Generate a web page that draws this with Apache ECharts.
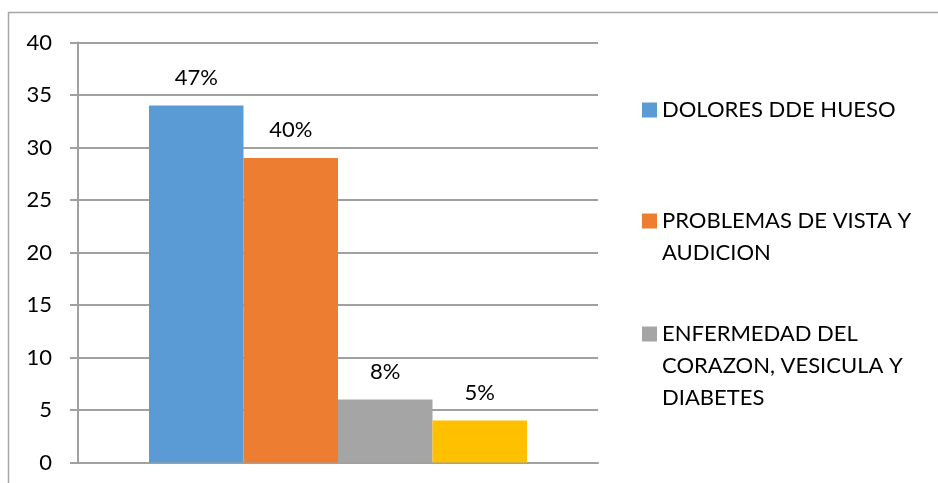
<!DOCTYPE html>
<html>
<head>
<meta charset="utf-8">
<script src="https://cdn.jsdelivr.net/npm/echarts@6/dist/echarts.min.js"></script>
<style>
html,body{margin:0;padding:0;background:#fff;}
#c{width:938px;height:483px;}
</style>
</head>
<body>
<div id="c"></div>
<script>
var categories = [''];
var seriesNames = ['DOLORES DDE HUESO', 'PROBLEMAS DE VISTA Y\nAUDICION', 'ENFERMEDAD DEL\nCORAZON, VESICULA Y\nDIABETES', 'OTROS'];
var seriesValues = [34, 29, 6, 4];
var seriesLabels = ['47%', '40%', '8%', '5%'];
var seriesColors = ['#5B9BD5', '#ED7D31', '#A5A5A5', '#FFC000'];
var yTicks = [0, 5, 10, 15, 20, 25, 30, 35, 40];

var FONT = 'Lato';
var FS = 22;
var chart = echarts.init(document.getElementById('c'));

var series = seriesValues.map(function (v, i) {
  return {
    name: seriesNames[i],
    type: 'bar',
    data: [v],
    barGap: '0%',
    barCategoryGap: '27.3%',
    itemStyle: { color: seriesColors[i] },
    label: {
      show: true,
      position: 'top',
      distance: 17,
      formatter: seriesLabels[i],
      color: '#000',
      fontFamily: FONT,
      fontSize: FS
    }
  };
});

function legendFor(i, top) {
  var lines = seriesNames[i].split('\n').length;
  return {
    data: [seriesNames[i]],
    left: 637,
    top: top,
    orient: 'vertical',
    itemWidth: 15,
    itemHeight: 15,
    itemGap: 0,
    icon: 'rect',
    selectedMode: false,
    formatter: function (name) {
      var pad = '';
      for (var k = 1; k < lines; k++) pad += ' \n';
      return pad + name;
    },
    textStyle: {
      fontFamily: FONT,
      fontSize: FS,
      lineHeight: 32,
      color: '#000'
    }
  };
}

chart.setOption({
  animation: false,
  backgroundColor: '#fff',
  graphic: [{
    type: 'rect',
    shape: { x: 8.5, y: 12.5, width: 1000, height: 1000 },
    style: { fill: 'none', stroke: '#A6A6A6', lineWidth: 1.5 },
    silent: true
  }],
  grid: { left: 78, right: 340, top: 42.5, bottom: 20.5, containLabel: false },
  legend: [legendFor(0, 89), legendFor(1, 168), legendFor(2, 249)],
  xAxis: {
    type: 'category',
    data: categories,
    axisLine: { show: true, lineStyle: { color: '#A0A0A0', width: 2 } },
    axisTick: { show: false },
    axisLabel: { show: false }
  },
  yAxis: {
    type: 'value',
    min: 0,
    max: 40,
    interval: 5,
    axisLine: { show: true, lineStyle: { color: '#A0A0A0', width: 2 } },
    axisTick: { show: true, length: 8, lineStyle: { color: '#A0A0A0', width: 2 } },
    splitLine: { show: true, lineStyle: { color: '#A0A0A0', width: 2 } },
    axisLabel: {
      margin: 26,
      color: '#000',
      fontFamily: FONT,
      fontSize: FS,
      formatter: function (v) { return yTicks.indexOf(v) >= 0 ? String(v) : ''; }
    }
  },
  series: series
});
</script>
</body>
</html>
